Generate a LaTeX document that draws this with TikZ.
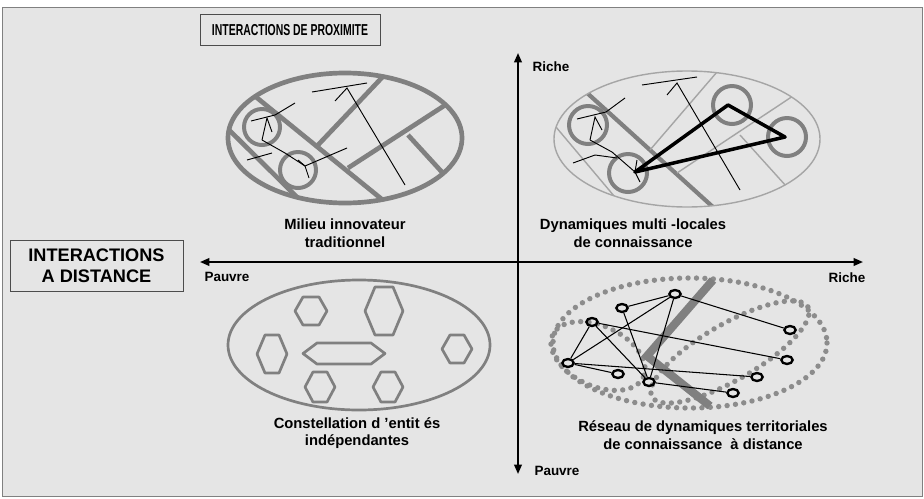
\documentclass[tikz,border=0pt]{standalone}
\usepackage{fontspec}
\setmainfont{Liberation Sans}
\newfontfamily\narrowfont[FakeStretch=0.66]{Liberation Sans}
\usetikzlibrary{arrows.meta,shapes.geometric}
\definecolor{panel}{RGB}{229,229,229}
\definecolor{midgray}{RGB}{128,128,128}
\definecolor{softgray}{RGB}{165,165,165}
\definecolor{dotgray}{RGB}{140,140,140}
\tikzset{
  axis/.style={line width=1.6pt, arrows={Triangle[length=8pt,width=6.5pt]-Triangle[length=8pt,width=6.5pt]}},
  caption/.style={font=\bfseries\fontsize{12.6}{15}\selectfont, align=center, inner sep=0pt},
  tick/.style={font=\bfseries\fontsize{11.5}{13}\selectfont, inner sep=0pt},
  titlebox/.style={draw=black!70, line width=0.8pt, fill=panel, minimum width=5.4cm, minimum height=0.93cm, font=\narrowfont\bfseries\fontsize{13.5}{16}\selectfont},
  distbox/.style={draw=black!70, line width=0.8pt, fill=panel, minimum width=5.19cm, minimum height=1.53cm, align=center, font=\bfseries\fontsize{15.5}{17.5}\selectfont},
  heavy/.style={midgray, line width=4pt},
  hexline/.style={midgray, line width=2.3pt, line join=round},
  faint/.style={softgray, line width=1.2pt},
  twig/.style={black, line width=0.8pt},
  dots/.style={dotgray, line width=4.6pt, line cap=round, dash pattern=on 0pt off 7.2pt},
  site/.style={ellipse, draw=black, line width=2pt, minimum width=0.34cm, minimum height=0.24cm, inner sep=0pt},
  link/.style={black, line width=0.9pt}
}
% hexagon: centre x, centre y, width, height, inset
\newcommand{\hexcell}[5]{%
  \draw[hexline] ({#1-#3/2},#2) -- ({#1-#3/2+#5},{#2-#4/2}) -- ({#1+#3/2-#5},{#2-#4/2})
    -- ({#1+#3/2},#2) -- ({#1+#3/2-#5},{#2+#4/2}) -- ({#1-#3/2+#5},{#2+#4/2}) -- cycle;}
\begin{document}
\begin{tikzpicture}[x=0.03cm, y=-0.03cm]
 \useasboundingbox (0,0) rectangle (924,498);
 \fill[white] (0,0) rectangle (924,498);
 \draw[midgray, line width=0.8pt, fill=panel] (2,7) rectangle (922,496);

 % axes
 \coordinate (top) at (518,53);
 \coordinate (bottom) at (518,474);
 \coordinate (left) at (200,262);
 \coordinate (right) at (863,262);
 \draw[axis] (bottom) -- (top);
 \draw[axis] (left) -- (right);
 \node[tick] (riche-top) at (551,67) {Riche};
 \node[tick] (pauvre-bottom) at (557,471) {Pauvre};
 \node[tick] (pauvre-left) at (227,277) {Pauvre};
 \node[tick] (riche-right) at (847,278) {Riche};

 \node[titlebox] (prox) at (290,30) {INTERACTIONS DE PROXIMITE};
 \node[distbox] (dist) at (96.5,265.5) {INTERACTIONS\\A DISTANCE};

 % milieu innovateur traditionnel
 \begin{scope}
  \clip (345,138) ellipse [x radius=117, y radius=65];
  \draw[heavy] (240,84) -- (400,214);
  \draw[heavy] (220,121) -- (310,210);
  \draw[heavy] (392,67) -- (318,145);
  \draw[heavy] (470,89) -- (348,168);
  \draw[heavy] (408,135) -- (462,194);
 \end{scope}
 \draw[heavy] (345,138) ellipse [x radius=117, y radius=65];
 \draw[heavy, line width=3.4pt] (262,127) circle [radius=18];
 \draw[heavy, line width=3.4pt] (298,170) circle [radius=18];
 \draw[twig] (405,185) -- (347,88) -- (335,101);
 \draw[twig] (312,92) -- (367,83);
 \draw[twig] (262,140) -- (267,118) -- (272,132);
 \draw[twig] (251,121) -- (275,115) -- (295,103);
 \draw[twig] (262,140) -- (285,153) -- (305,166) -- (347,148);
 \draw[twig] (247,160) -- (272,153);
 \draw[twig] (298,160) -- (305,166) -- (309,178);
 \node[caption] (milieu) at (345,233) {Milieu innovateur\\traditionnel};

 % dynamiques multi-locales
 \begin{scope}
  \clip (687,139) ellipse [x radius=133, y radius=68];
  \draw[heavy, line width=3.6pt] (575,82) -- (735,227);
  \draw[faint] (545,114) -- (625,209);
  \draw[faint] (735,51) -- (650,150);
  \draw[faint] (805,88) -- (677,173);
  \draw[faint] (740,135) -- (805,207);
 \end{scope}
 \draw[faint] (687,139) ellipse [x radius=133, y radius=68];
 \foreach \cx/\cy in {588/125, 628/173, 732/105, 787/137}
  \draw[heavy, line width=3.4pt] (\cx,\cy) circle [radius=19];
 \draw[black, line width=3pt, line join=round] (635,172) -- (728,105) -- (785,137) -- cycle;
 \draw[twig] (740,190) -- (677,83) -- (667,95);
 \draw[twig] (642,85) -- (697,77);
 \draw[twig] (590,140) -- (595,117) -- (602,130);
 \draw[twig] (577,119) -- (606,112) -- (625,98);
 \draw[twig] (590,140) -- (612,152) -- (635,172);
 \draw[twig] (573,163) -- (595,155) -- (617,158);
 \draw[twig] (637,160) -- (635,172) -- (640,182);
 \node[caption] (multi) at (633,233) {Dynamiques multi -locales\\de connaissance};

 % constellation
 \draw[hexline] (359,345) ellipse [x radius=131, y radius=65];
 \hexcell{311}{311}{32}{28}{8}
 \hexcell{384}{311}{38}{48}{10}
 \hexcell{272}{354}{30}{38}{8}
 \hexcell{344}{353.5}{82}{21}{14}
 \hexcell{457}{349}{30}{28}{8}
 \hexcell{320}{387}{30}{30}{8}
 \hexcell{388}{387}{30}{30}{8}
 \node[caption] (constel) at (357,433) {Constellation d 'entit és\\indépendantes};

 % reseau a distance
 \draw[dots] (690,343) ellipse [x radius=137, y radius=65];
 \draw[dots, rotate around={30:(730,352)}] (730,352) ellipse [x radius=90, y radius=28];
 \draw[dots, rotate around={-25:(598,356)}] (598,356) ellipse [x radius=50, y radius=30];
 \draw[midgray, line width=7pt] (713,280) -- (647,356) -- (710,406);
 \foreach \n/\x/\y in {1/675/294, 2/622/308, 3/592/322, 4/568/363, 5/618/374,
   6/649/382, 7/733/393, 8/757/377, 9/787/360, 10/790/330}
  \node[site] (s\n) at (\x,\y) {};
 \foreach \a/\b in {1/2, 1/4, 1/6, 1/10, 2/6, 3/4, 3/6, 3/9, 4/5, 4/8, 6/7}
  \draw[link] (s\a) -- (s\b);
 \node[caption] (reseau) at (703,435) {Réseau de dynamiques territoriales\\de connaissance \ à distance};
\end{tikzpicture}
\end{document}
